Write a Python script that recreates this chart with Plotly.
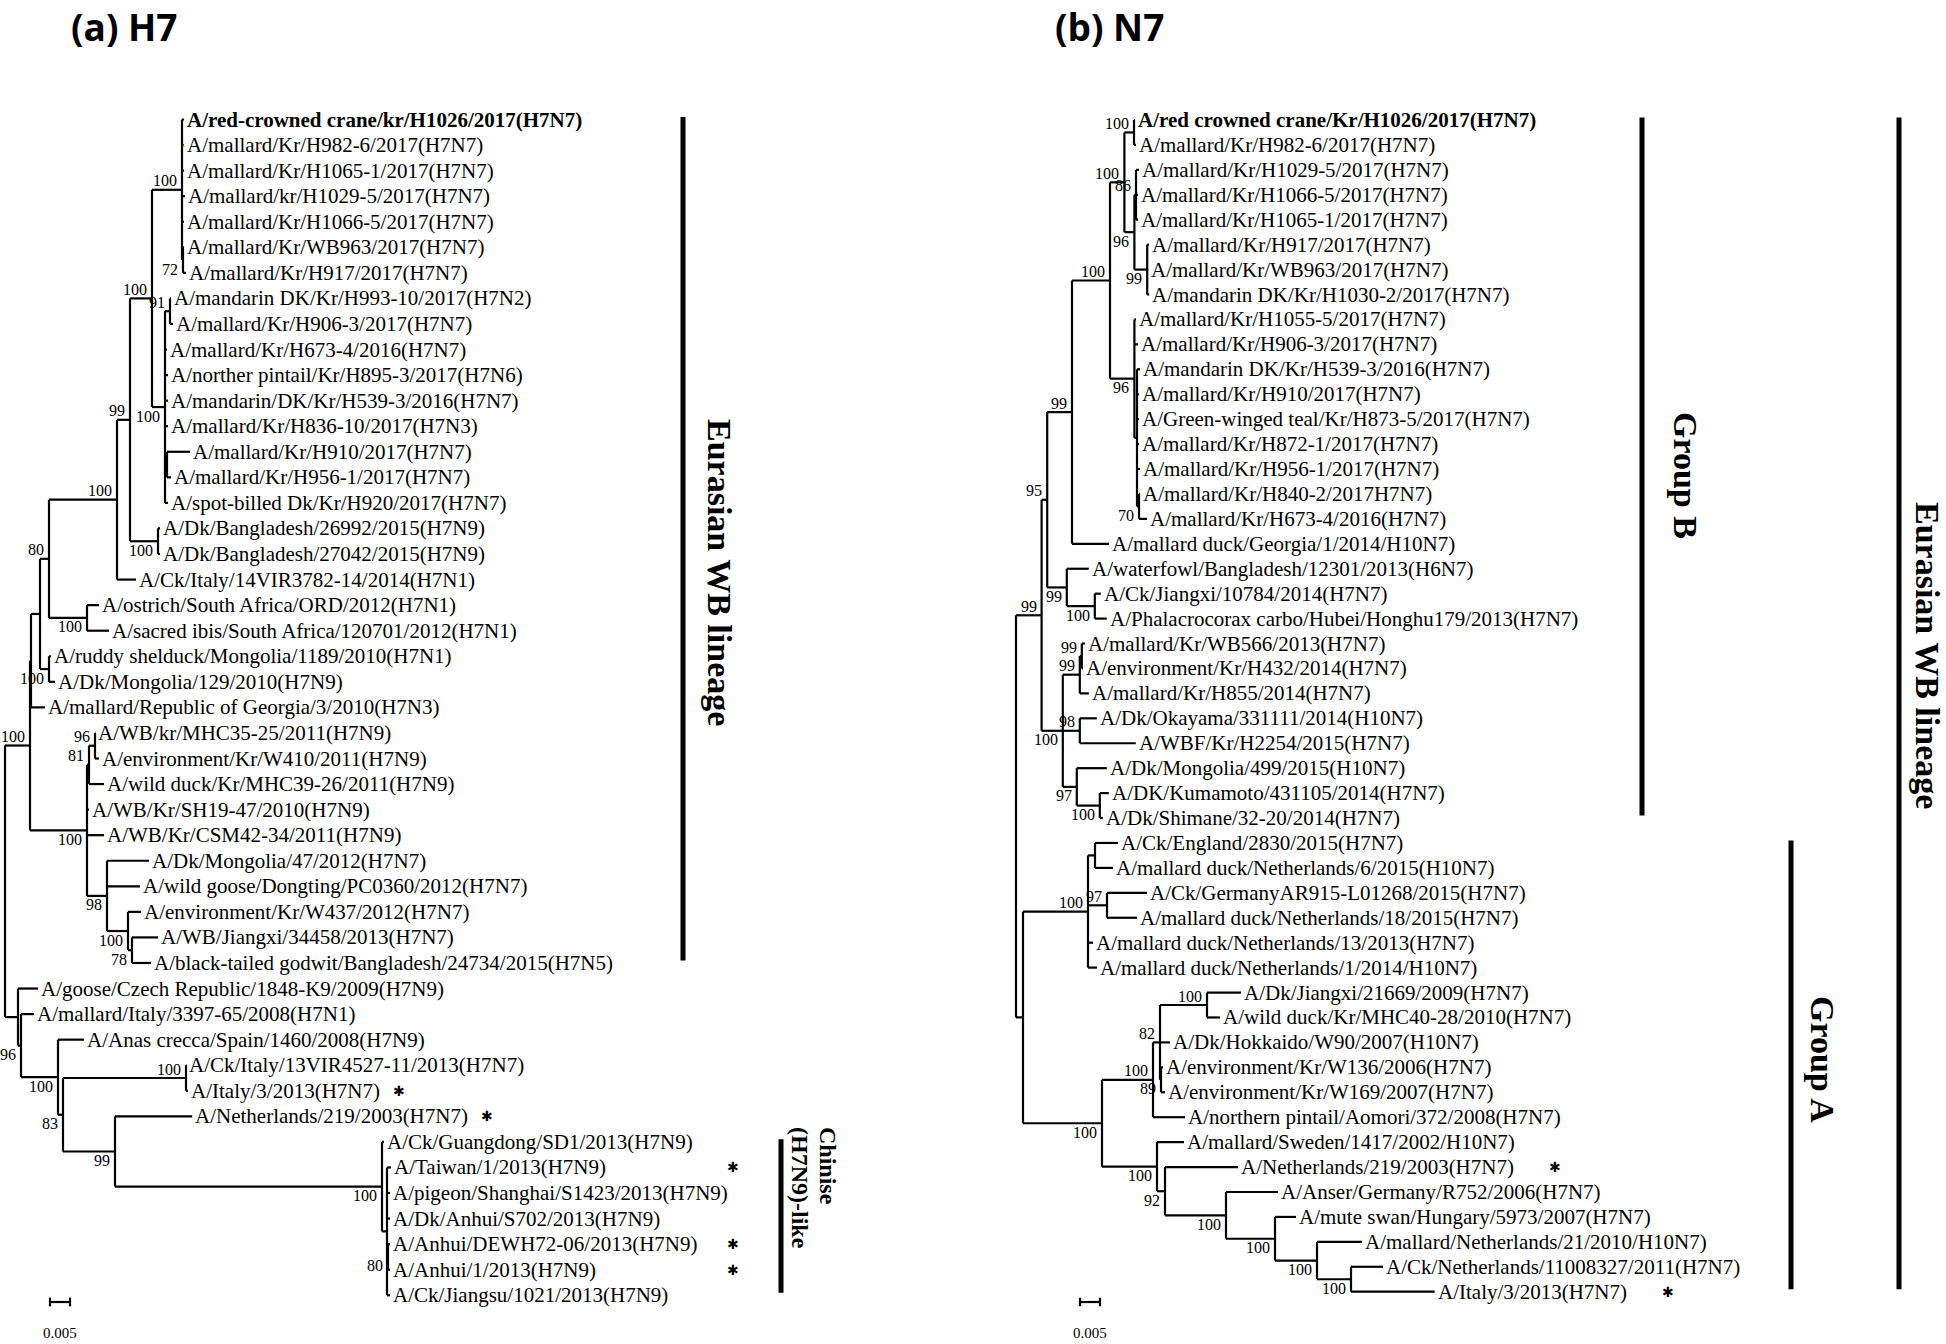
import plotly.graph_objects as go

# ------------------------------------------------------------------ data
h7_taxa = [
    "A/red-crowned crane/kr/H1026/2017(H7N7)",
    "A/mallard/Kr/H982-6/2017(H7N7)",
    "A/mallard/Kr/H1065-1/2017(H7N7)",
    "A/mallard/kr/H1029-5/2017(H7N7)",
    "A/mallard/Kr/H1066-5/2017(H7N7)",
    "A/mallard/Kr/WB963/2017(H7N7)",
    "A/mallard/Kr/H917/2017(H7N7)",
    "A/mandarin DK/Kr/H993-10/2017(H7N2)",
    "A/mallard/Kr/H906-3/2017(H7N7)",
    "A/mallard/Kr/H673-4/2016(H7N7)",
    "A/norther pintail/Kr/H895-3/2017(H7N6)",
    "A/mandarin/DK/Kr/H539-3/2016(H7N7)",
    "A/mallard/Kr/H836-10/2017(H7N3)",
    "A/mallard/Kr/H910/2017(H7N7)",
    "A/mallard/Kr/H956-1/2017(H7N7)",
    "A/spot-billed Dk/Kr/H920/2017(H7N7)",
    "A/Dk/Bangladesh/26992/2015(H7N9)",
    "A/Dk/Bangladesh/27042/2015(H7N9)",
    "A/Ck/Italy/14VIR3782-14/2014(H7N1)",
    "A/ostrich/South Africa/ORD/2012(H7N1)",
    "A/sacred ibis/South Africa/120701/2012(H7N1)",
    "A/ruddy shelduck/Mongolia/1189/2010(H7N1)",
    "A/Dk/Mongolia/129/2010(H7N9)",
    "A/mallard/Republic of Georgia/3/2010(H7N3)",
    "A/WB/kr/MHC35-25/2011(H7N9)",
    "A/environment/Kr/W410/2011(H7N9)",
    "A/wild duck/Kr/MHC39-26/2011(H7N9)",
    "A/WB/Kr/SH19-47/2010(H7N9)",
    "A/WB/Kr/CSM42-34/2011(H7N9)",
    "A/Dk/Mongolia/47/2012(H7N7)",
    "A/wild goose/Dongting/PC0360/2012(H7N7)",
    "A/environment/Kr/W437/2012(H7N7)",
    "A/WB/Jiangxi/34458/2013(H7N7)",
    "A/black-tailed godwit/Bangladesh/24734/2015(H7N5)",
    "A/goose/Czech Republic/1848-K9/2009(H7N9)",
    "A/mallard/Italy/3397-65/2008(H7N1)",
    "A/Anas crecca/Spain/1460/2008(H7N9)",
    "A/Ck/Italy/13VIR4527-11/2013(H7N7)",
    "A/Italy/3/2013(H7N7)",
    "A/Netherlands/219/2003(H7N7)",
    "A/Ck/Guangdong/SD1/2013(H7N9)",
    "A/Taiwan/1/2013(H7N9)",
    "A/pigeon/Shanghai/S1423/2013(H7N9)",
    "A/Dk/Anhui/S702/2013(H7N9)",
    "A/Anhui/DEWH72-06/2013(H7N9)",
    "A/Anhui/1/2013(H7N9)",
    "A/Ck/Jiangsu/1021/2013(H7N9)",
]

# Newick: leaves are row numbers of h7_taxa (1-based); internal labels are
# bootstrap values ("_" prefix = value printed under the branch).
h7_newick = """
(
 (
  (
   (
    (
     (
      (
       (
        (1:0.0005,2:0.0004,3:0.0005,4:0.00075,5:0.0005,(6:0.00025,7:0.00075)_72:0.00025)100:0.0075,
        ((8:0.00025,9:0.00075)91:0.00125,10:0.0005,11:0.00075,12:0.00075,13:0.00075,
         (14:0.00575,15:0.001):0.0005,16:0.00075)_100:0.00325
       )100:0.0055,
       (17:0.0005,18:0.0005)_100:0.007
      )99:0.00325,
      19:0.00475
     )100:0.017,
     (20:0.003,21:0.0055)_100:0.0095
    )80:0.00225,
    (22:0.0005,23:0.0015)_100:0.00225
   ):0.00225,
   24:0.0035
  ):0.00025,
  (
   ((25:0.0001,26:0.001)96:0.0015,27:0.00375)81:0.0005,
   28:0.0005,
   29:0.00425,
   (30:0.0105,31:0.00825,(32:0.00325,(33:0.0065,34:0.00475)_78:0.001)_100:0.00525)_98:0.005
  )_100:0.01425
 )100:0.00625,
 (
  35:0.005,
  (
   36:0.00325,
   (
    37:0.0065,
    (
     (38:0.0001,39:0.0005)100:0.03075,
     (
      40:0.0193,
      (41:0.0005,(42:0.001,43:0.00075,44:0.00075,(45:0.0005,46:0.0005)_80:0.00025,47:0.00075):0.00125)_100:0.06675
     )_99:0.013
    )_83:0.00125
   )_100:0.00925
  )_96:0.00075
 ):0.00325
);
"""
h7_human_cases = [[39], [40], [42, 45, 46]]
h7_bold = [1]
h7_clades = [("Eurasian WB lineage", 1, 34), ("Chinise<br>(H7N9)-like", 41, 47)]

n7_taxa = [
    "A/red crowned crane/Kr/H1026/2017(H7N7)",
    "A/mallard/Kr/H982-6/2017(H7N7)",
    "A/mallard/Kr/H1029-5/2017(H7N7)",
    "A/mallard/Kr/H1066-5/2017(H7N7)",
    "A/mallard/Kr/H1065-1/2017(H7N7)",
    "A/mallard/Kr/H917/2017(H7N7)",
    "A/mallard/Kr/WB963/2017(H7N7)",
    "A/mandarin DK/Kr/H1030-2/2017(H7N7)",
    "A/mallard/Kr/H1055-5/2017(H7N7)",
    "A/mallard/Kr/H906-3/2017(H7N7)",
    "A/mandarin DK/Kr/H539-3/2016(H7N7)",
    "A/mallard/Kr/H910/2017(H7N7)",
    "A/Green-winged teal/Kr/H873-5/2017(H7N7)",
    "A/mallard/Kr/H872-1/2017(H7N7)",
    "A/mallard/Kr/H956-1/2017(H7N7)",
    "A/mallard/Kr/H840-2/2017H7N7)",
    "A/mallard/Kr/H673-4/2016(H7N7)",
    "A/mallard duck/Georgia/1/2014/H10N7)",
    "A/waterfowl/Bangladesh/12301/2013(H6N7)",
    "A/Ck/Jiangxi/10784/2014(H7N7)",
    "A/Phalacrocorax carbo/Hubei/Honghu179/2013(H7N7)",
    "A/mallard/Kr/WB566/2013(H7N7)",
    "A/environment/Kr/H432/2014(H7N7)",
    "A/mallard/Kr/H855/2014(H7N7)",
    "A/Dk/Okayama/331111/2014(H10N7)",
    "A/WBF/Kr/H2254/2015(H7N7)",
    "A/Dk/Mongolia/499/2015(H10N7)",
    "A/DK/Kumamoto/431105/2014(H7N7)",
    "A/Dk/Shimane/32-20/2014(H7N7)",
    "A/Ck/England/2830/2015(H7N7)",
    "A/mallard duck/Netherlands/6/2015(H10N7)",
    "A/Ck/GermanyAR915-L01268/2015(H7N7)",
    "A/mallard duck/Netherlands/18/2015(H7N7)",
    "A/mallard duck/Netherlands/13/2013(H7N7)",
    "A/mallard duck/Netherlands/1/2014/H10N7)",
    "A/Dk/Jiangxi/21669/2009(H7N7)",
    "A/wild duck/Kr/MHC40-28/2010(H7N7)",
    "A/Dk/Hokkaido/W90/2007(H10N7)",
    "A/environment/Kr/W136/2006(H7N7)",
    "A/environment/Kr/W169/2007(H7N7)",
    "A/northern pintail/Aomori/372/2008(H7N7)",
    "A/mallard/Sweden/1417/2002/H10N7)",
    "A/Netherlands/219/2003(H7N7)",
    "A/Anser/Germany/R752/2006(H7N7)",
    "A/mute swan/Hungary/5973/2007(H7N7)",
    "A/mallard/Netherlands/21/2010/H10N7)",
    "A/Ck/Netherlands/11008327/2011(H7N7)",
    "A/Italy/3/2013(H7N7)",
]

n7_newick = """
(
 (
  (
   (
    (
     (
      (1:0.00025,2:0.0005)100:0.0024,
      ((3:0.00075,4:0.0005,5:0.0005)86:0.0004,(6:0.0004,7:0.00025,8:0.0005)_99:0.0032)_96:0.0025
     )100:0.0036,
     (9:0.0004,10:0.0009,
      (11:0.00075,12:0.0005,13:0.0005,14:0.0005,15:0.00075,(16:0.00025,17:0.002)_70:0.0005):0.00065
     )_96:0.0061
    )100:0.0095,
    18:0.00925
   )99:0.0062,
   (19:0.0055,(20:0.0015,21:0.003)_100:0.007)_99:0.0049
  )95:0.0014,
  (
   ((22:0.00075,23:0.00025)99:0.0005,24:0.00225)99:0.00425,
   (25:0.00425,26:0.014)98:0.00425,
   (27:0.0075,(28:0.00225,29:0.00075)_100:0.00575)_97:0.0035
  )_100:0.0053
 )99:0.0064,
 (
  ((30:0.00575,31:0.0045):0.00175,(32:0.01,33:0.0075)97:0.00475,34:0.00125,35:0.00225)100:0.01625,
  (
   (((36:0.0085,37:0.00325)100:0.01175,38:0.0025,(39:0.0005,40:0.001)_89:0.00025)82:0.00175,41:0.008)100:0.01275,
   (42:0.00675,(43:0.01825,(44:0.013,(45:0.00525,(46:0.01125,(47:0.008,48:0.0209)_100:0.0085)_100:0.0105)_100:0.01225)_100:0.01525)_92:0.002)_100:0.01375
  )_100:0.01975
 ):0.00175
);
"""
n7_human_cases = [[43], [48]]
n7_bold = [1]
n7_clades = [("Group B", 1, 29), ("Group A", 30, 48), ("Eurasian WB lineage", 1, 48)]

scale_bar_value = 0.005
scale_bar_text = "0.005"
panel_titles = ["(a) H7", "(b) N7"]

# ------------------------------------------------------------------ layout / style
W, H = 1946, 1344
SUBS_PER_PX = 0.00025          # 0.005 substitutions/site <-> 20 px
LEAF_FONT = 21
BOOT_FONT = 16
SERIF = "Liberation Serif, Times New Roman, serif"
STAR = "\u2731"

PANELS = [
    dict(taxa=h7_taxa, newick=h7_newick, human=h7_human_cases, bold=h7_bold,
         clades=h7_clades, root_px=5, row0=119.5, row_px=25.56, xa="x", ya="y",
         star_gap=20, bar_x=[683, 781],
         clade_text=[(720, 572, 34, "middle", 0), (814, 1126, 24, "top", 28)],
         scale_px=(50, 1302), scale_lbl_py=1333, title_px=(70, 26)),
    dict(taxa=n7_taxa, newick=n7_newick, human=n7_human_cases, bold=n7_bold,
         clades=n7_clades, root_px=1016, row0=120.0, row_px=24.93, xa="x2", ya="y2",
         star_gap=42, bar_x=[1642, 1791, 1899],
         clade_text=[(1686, 475, 34, "middle", 0), (1823, 1059, 34, "middle", 0),
                     (1928, 655, 34, "middle", 0)],
         scale_px=(1080, 1302), scale_lbl_py=1333, title_px=(1054, 26)),
]

# Times-metric character widths (em) to estimate where a tip label ends
_CW = {c: 0.5 for c in "0123456789"}
_CW.update(dict(A=.722, B=.667, C=.667, D=.722, E=.611, F=.556, G=.722, H=.722, I=.333, J=.389,
                K=.722, L=.611, M=.889, N=.722, O=.722, P=.556, Q=.722, R=.667, S=.556, T=.611,
                U=.722, V=.722, W=.944, X=.722, Y=.722, Z=.611))
_CW.update(dict(a=.444, b=.5, c=.444, d=.5, e=.444, f=.333, g=.5, h=.5, i=.278, j=.278, k=.5,
                l=.278, m=.778, n=.5, o=.5, p=.5, q=.5, r=.333, s=.389, t=.278, u=.5, v=.5,
                w=.722, x=.5, y=.5, z=.444))
_CW.update({"/": .278, "(": .333, ")": .333, "-": .333, " ": .25, ".": .25})


def text_width(s, size):
    return sum(_CW.get(c, 0.5) for c in s) * size


def parse_newick(text):
    s = "".join(text.split()).rstrip(";")
    pos = 0

    def node():
        nonlocal pos
        nd = {"children": [], "label": "", "bl": 0.0}
        if s[pos] == "(":
            pos += 1
            while True:
                nd["children"].append(node())
                if s[pos] == ",":
                    pos += 1
                    continue
                if s[pos] == ")":
                    pos += 1
                    break
        start = pos
        while pos < len(s) and s[pos] not in ":,)":
            pos += 1
        nd["label"] = s[start:pos]
        if pos < len(s) and s[pos] == ":":
            pos += 1
            start = pos
            while pos < len(s) and s[pos] not in ",)":
                pos += 1
            nd["bl"] = float(s[start:pos])
        return nd

    return node()


def place(nd, parent_x=0.0):
    nd["x"] = parent_x + nd["bl"]
    if nd["children"]:
        for c in nd["children"]:
            place(c, nd["x"])
        nd["y"] = (nd["children"][0]["y"] + nd["children"][-1]["y"]) / 2.0
    else:
        nd["y"] = float(int(nd["label"]))


def walk(nd, out):
    out.append(nd)
    for c in nd["children"]:
        walk(c, out)
    return out


fig = go.Figure()
annotations = []
shapes = []
layout_axes = {}

for pi, p in enumerate(PANELS):
    root = parse_newick(p["newick"])
    place(root)
    nodes = walk(root, [])
    leaves = [n for n in nodes if not n["children"]]
    assert [int(n["label"]) for n in leaves] == list(range(1, len(p["taxa"]) + 1))

    def row_of(py, p=p):
        return 1 + (py - p["row0"]) / p["row_px"]

    def x_of(px, p=p):
        return (px - p["root_px"]) * SUBS_PER_PX

    def px_of(x, p=p):
        return p["root_px"] + x / SUBS_PER_PX

    # branches
    xs, ys = [], []
    for n in nodes:
        if n["children"]:
            ys_c = [c["y"] for c in n["children"]]
            xs += [n["x"], n["x"], None]
            ys += [min(ys_c), max(ys_c), None]
            for c in n["children"]:
                xs += [n["x"], c["x"], None]
                ys += [c["y"], c["y"], None]
    # scale bar
    sx0 = x_of(p["scale_px"][0])
    sy = row_of(p["scale_px"][1])
    tk = 0.17
    sx1 = sx0 + scale_bar_value
    xs += [sx0, sx1, None, sx0, sx0, None, sx1, sx1, None]
    ys += [sy, sy, None, sy - tk, sy + tk, None, sy - tk, sy + tk, None]
    fig.add_trace(go.Scatter(x=xs, y=ys, mode="lines", xaxis=p["xa"], yaxis=p["ya"],
                             line=dict(color="black", width=2.2), hoverinfo="skip",
                             showlegend=False))
    annotations.append(dict(x=(sx0 + sx1) / 2, y=row_of(p["scale_lbl_py"]),
                            xref=p["xa"], yref=p["ya"], text=scale_bar_text, showarrow=False,
                            xanchor="center", yanchor="middle", borderpad=0,
                            font=dict(family=SERIF, size=15, color="black")))

    # tip labels
    label_end = {}
    for n in leaves:
        k = int(n["label"])
        name = p["taxa"][k - 1]
        txt = f"<b>{name}</b>" if k in p["bold"] else name
        annotations.append(dict(x=n["x"], y=n["y"], xref=p["xa"], yref=p["ya"], text=txt,
                                showarrow=False, xanchor="left", yanchor="middle", xshift=2,
                                borderpad=0, font=dict(family=SERIF, size=LEAF_FONT, color="black")))
        label_end[k] = px_of(n["x"]) + 2 + text_width(name, LEAF_FONT)

    # bootstrap values
    for n in nodes:
        if n["children"] and n["label"]:
            below = n["label"].startswith("_")
            annotations.append(dict(x=n["x"], y=n["y"], xref=p["xa"], yref=p["ya"],
                                    text=n["label"].lstrip("_"), showarrow=False,
                                    xanchor="right", yanchor="middle", xshift=-4,
                                    yshift=-9 if below else 9, borderpad=0,
                                    font=dict(family=SERIF, size=BOOT_FONT, color="black")))

    # human-case asterisks (a group of rows shares one aligned column)
    for grp in p["human"]:
        gap = p["star_gap"] if len(grp) == 1 else 6
        col = max(label_end[k] for k in range(min(grp), max(grp) + 1)) + gap
        for k in grp:
            annotations.append(dict(x=col / W, y=float(k), xref="paper", yref=p["ya"], text=STAR,
                                    showarrow=False, xanchor="center", yanchor="middle",
                                    borderpad=0,
                                    font=dict(family="DejaVu Sans", size=14, color="black")))

    # clade bars and names
    for (name, first, last), bx, (tx, ty, fs, va, lsp) in zip(p["clades"], p["bar_x"], p["clade_text"]):
        shapes.append(dict(type="line", xref="paper", yref=p["ya"], x0=bx / W, x1=bx / W,
                           y0=first - 0.1, y1=last - 0.1, line=dict(color="black", width=5)))
        lines = name.split("<br>")
        nl = len(lines)
        for li, line in enumerate(lines):
            lx = tx + ((nl - 1) / 2 - li) * lsp
            annotations.append(dict(x=lx / W, y=1 - ty / H, xref="paper", yref="paper", text=line,
                                    showarrow=False, textangle=90, xanchor="center", yanchor=va,
                                    borderpad=0,
                                    font=dict(family=SERIF, size=fs, color="black", weight="bold")))

    # panel title
    annotations.append(dict(x=p["title_px"][0] / W, y=1 - p["title_px"][1] / H, xref="paper",
                            yref="paper", text=panel_titles[pi], showarrow=False,
                            xanchor="left", yanchor="middle", borderpad=0,
                            font=dict(family="Open Sans, Noto Sans, sans-serif", size=37,
                                      color="black", weight="bold")))

    xname = "xaxis" if pi == 0 else "xaxis2"
    yname = "yaxis" if pi == 0 else "yaxis2"
    xa = dict(domain=[0, 1], range=[x_of(0), x_of(W)], visible=False, fixedrange=True)
    ya = dict(domain=[0, 1], range=[row_of(H), row_of(0)], visible=False, fixedrange=True)
    if pi == 1:
        xa.update(overlaying="x", anchor="y2")
        ya.update(overlaying="y", anchor="x2")
    layout_axes[xname] = xa
    layout_axes[yname] = ya

fig.update_layout(width=W, height=H, margin=dict(l=0, r=0, t=0, b=0),
                  paper_bgcolor="white", plot_bgcolor="white", showlegend=False,
                  annotations=annotations, shapes=shapes, **layout_axes)

fig.write_html("out.html", config={"displayModeBar": False},
               post_script="document.body.style.margin='0px';document.body.style.overflow='hidden';")
